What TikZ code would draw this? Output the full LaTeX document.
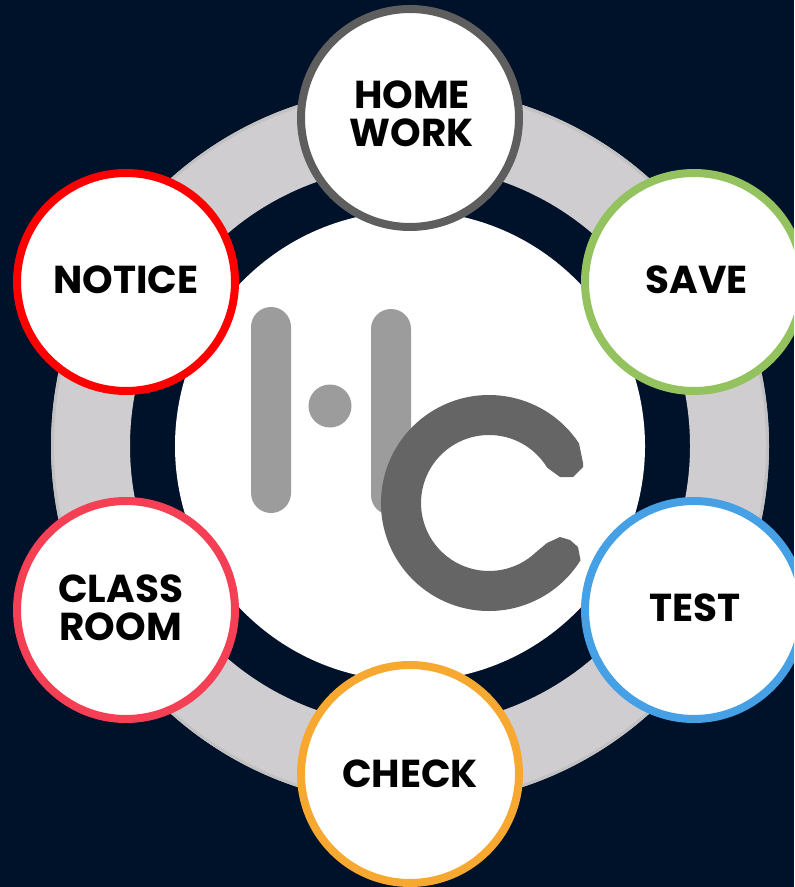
\documentclass[tikz,border=0pt]{standalone}
\usepackage{fontspec}
\setmainfont{Poppins}
\usepackage{xcolor}
\definecolor{navybg}{HTML}{00112A}
\definecolor{ringgrey}{HTML}{CFCDCF}
\definecolor{ringedge}{HTML}{C2C1C2}
\definecolor{barlight}{HTML}{9C9C9C}
\definecolor{bardark}{HTML}{656565}
\definecolor{homegrey}{HTML}{5E5E5E}
\definecolor{savegreen}{HTML}{93C25F}
\definecolor{testblue}{HTML}{45A0E5}
\definecolor{checkamber}{HTML}{F7A830}
\definecolor{classred}{HTML}{F43F54}
\definecolor{noticered}{HTML}{FF0000}
\tikzset{
  hub/.style={circle, draw=#1, line width=6pt, fill=white, minimum size=163.5pt, inner sep=0pt},
  hubtext/.style={align=center, text=black, inner sep=0pt, font=\fontsize{29.2}{28.5}\selectfont\bfseries},
  logobar/.style={rounded corners=15pt, fill=barlight},
}

\begin{document}
\begin{tikzpicture}[x=0.75pt, y=-0.75pt]
\useasboundingbox (0,0) rectangle (794,887);
\clip (0,0) rectangle (794,887);
\fill[navybg] (0,0) rectangle (794,887);
% ring behind the hubs
\fill[ringgrey, even odd rule] (410,446) circle[radius=359] (410,446) circle[radius=280];
\draw[ringedge, line width=2.2pt] (410,446) circle[radius=357.5];
\fill[white] (410,446) circle[radius=235];
% logo
\fill[logobar] (251,307) rectangle (291,513);
\fill[barlight] (330,406) circle[radius=21.5];
\fill[logobar] (371,309) rectangle (411,515);
\fill[bardark] (579,443.4) arc[start angle=326.5, end angle=32, radius=108]
  -- (578,547) -- (570,540) -- (560,537) -- (547,543)
  -- (535.4,552.7) arc[start angle=47, end angle=328.6, radius=68]
  -- (560,477) -- (573,477) -- (583,467) -- (583,463) -- cycle;
% hubs
\node[hub=homegrey, label={[hubtext, yshift=3pt, xshift=1.5pt]center:HOME\\WORK}] (homework) at (410,118) {};
\node[hub=savegreen, label={[hubtext, xshift=2pt, yshift=1.5pt]center:SAVE}] (save) at (694,282) {};
\node[hub=testblue, label={[hubtext, xshift=1pt, yshift=1.5pt]center:TEST}] (test) at (694,610) {};
\node[hub=checkamber, label={[hubtext]center:CHECK}] (check) at (410,774) {};
\node[hub=classred, label={[hubtext, xshift=-4pt, yshift=1.5pt]center:CLASS\\ROOM}] (classroom) at (126,610) {};
\node[hub=noticered, label={[hubtext, yshift=1.5pt]center:NOTICE}] (notice) at (126,282) {};
\end{tikzpicture}
\end{document}
